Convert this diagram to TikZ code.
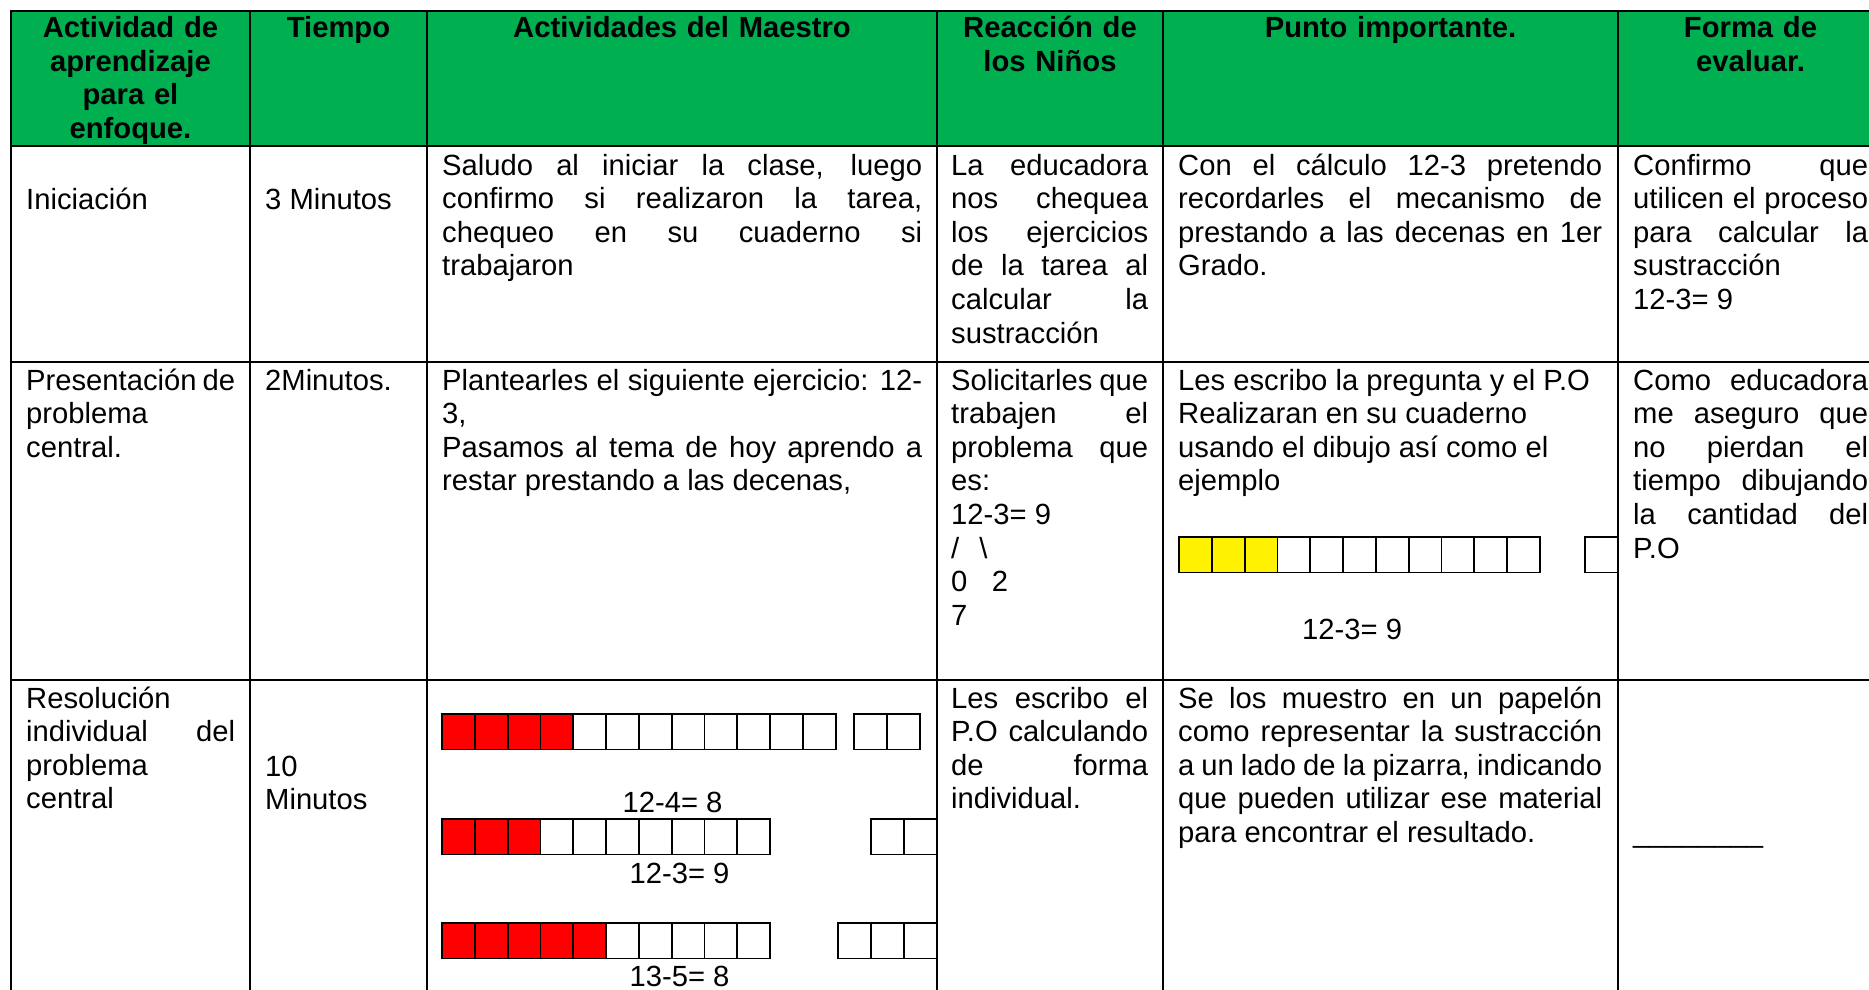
\documentclass[tikz,border=0pt]{standalone}
\usepackage{fontspec}
\setmainfont{Liberation Sans}
\usepackage{tikz}
\definecolor{hdrgreen}{RGB}{0,176,80}
\hyphenpenalty=10000
\exhyphenpenalty=10000
\tolerance=10000
\hbadness=10000

\begin{document}
\begin{tikzpicture}[x=1pt, y=-1pt,
	txt/.style={anchor=base west, inner sep=0pt, align=justify, font=\fontsize{29.2}{33.6}\selectfont},
	hdr/.style={anchor=base, inner sep=0pt, align=center, font=\bfseries\fontsize{29.2}{33.6}\selectfont},
	rule/.style={line width=2.6pt},
	cell/.style={draw, line width=1.8pt}]
	\useasboundingbox (0,0) rectangle (1869,989);
	\clip (0,0) rectangle (1869,989);
	
	% cabecera
	\fill [hdrgreen] (11,11) rectangle (1880,146);
	\node at (130.5,37.5) [hdr, text width=220] (h1) {Actividad de\\aprendizaje\\para el\\enfoque.};
	\node at (338.5,37.5) [hdr, text width=150] (h2) {Tiempo};
	\node at (682,37.5) [hdr, text width=480] (h3) {Actividades del Maestro};
	\node at (1050,37.5) [hdr, text width=200] (h4) {Reacción de\\los Niños};
	\node at (1390.5,37.5) [hdr, text width=424] (h5) {Punto importante.};
	\node at (1750.5,37.5) [hdr, text width=235] (h6) {Forma de\\evaluar.};
	
	% fila 1
	\node at (26,209) [txt] (r1c1) {Iniciación};
	\node at (265,209) [txt] (r1c2) {3 Minutos};
	\node at (442,175) [txt, text width=480] (r1c3) {Saludo al iniciar la clase, luego\linebreak confirmo si realizaron la tarea,\linebreak chequeo en su cuaderno si\linebreak trabajaron};
	\node at (951,175) [txt, text width=197] (r1c4) {La educadora\linebreak nos chequea\linebreak los ejercicios\linebreak de la tarea al\linebreak calcular la\linebreak sustracción};
	\node at (1178,175) [txt, text width=424] (r1c5) {Con el cálculo 12-3 pretendo\linebreak recordarles el mecanismo de\linebreak prestando a las decenas en 1er\linebreak Grado.};
	\node at (1633,175) [txt, text width=235] (r1c6) {Confirmo que\linebreak utilicen el proceso\linebreak para calcular la\linebreak sustracción\\12-3= 9};
	
	% fila 2
	\node at (26,390) [txt, text width=209] (r2c1) {Presentación de\\problema\\central.};
	\node at (265,390) [txt] (r2c2) {2Minutos.};
	\node at (442,390) [txt, text width=480] (r2c3) {Plantearles el siguiente ejercicio: 12-\linebreak 3,\\Pasamos al tema de hoy aprendo a\linebreak restar prestando a las decenas,};
	\node at (951,390) [txt, text width=197] (r2c4) {Solicitarles que\linebreak trabajen el\linebreak problema que\linebreak es:\\12-3= 9\\/\hspace{20pt}\textbackslash\\0\ \ \ 2\\7};
	\node at (1178,390) [txt, text width=424] (r2c5) {Les escribo la pregunta y el P.O\\Realizaran en su cuaderno\\usando el dibujo así como el\\ejemplo};
	\node at (1302,639) [txt] (eq1) {12-3= 9};
	\node at (1633,390) [txt, text width=235] (r2c6) {Como educadora\linebreak me aseguro que\linebreak no pierdan el\linebreak tiempo dibujando\linebreak la cantidad del\linebreak P.O};
	
	% barra amarilla
	\fill [yellow] (1179,537) rectangle +(3*32.8,35.5);
	\foreach \i in {0,...,10}
		\draw [cell] (1179+\i*32.8,537) rectangle +(32.8,35.5);
	\draw [cell] (1585,537) rectangle +(32.8,35.5);
	
	% fila 3
	\node at (26,708) [txt, text width=209] (r3c1) {Resolución\\individual del\linebreak problema\\central};
	\node at (265,776) [txt, text width=147] (r3c2) {10\\Minutos};
	\node at (951,708) [txt, text width=197] (r3c4) {Les escribo el\linebreak P.O calculando\linebreak de forma\linebreak individual.};
	\node at (1178,708) [txt, text width=424] (r3c5) {Se los muestro en un papelón\linebreak como representar la sustracción\linebreak a un lado de la pizarra, indicando\linebreak que pueden utilizar ese material\linebreak para encontrar el resultado.};
	\node at (1633,842) [txt] (r3c6) {\_\_\_\_\_\_\_\_};
	
	% barras rojas
	\fill [red] (442,714) rectangle +(4*32.8,35.5);
	\foreach \i in {0,...,11}
		\draw [cell] (442+\i*32.8,714) rectangle +(32.8,35.5);
	\foreach \i in {0,1}
		\draw [cell] (854+\i*32.8,714) rectangle +(32.8,35.5);
	\node at (672.5,812) [txt, anchor=base] (eq2) {12-4= 8};
	
	\fill [red] (442,819) rectangle +(3*32.8,35.5);
	\foreach \i in {0,...,9}
		\draw [cell] (442+\i*32.8,819) rectangle +(32.8,35.5);
	\foreach \i in {0,1}
		\draw [cell] (871+\i*32.8,819) rectangle +(32.8,35.5);
	\node at (679.5,883) [txt, anchor=base] (eq3) {12-3= 9};
	
	\fill [red] (442,923) rectangle +(5*32.8,35.5);
	\foreach \i in {0,...,9}
		\draw [cell] (442+\i*32.8,923) rectangle +(32.8,35.5);
	\foreach \i in {0,1,2}
		\draw [cell] (838+\i*32.8,923) rectangle +(32.8,35.5);
	\node at (679.5,986) [txt, anchor=base] (eq4) {13-5= 8};
	
	% lineas de la tabla
	\draw [rule] (11,1000) -- (11,11) -- (1880,11);
	\draw [rule] (11,146) -- (1880,146);
	\draw [rule] (11,362) -- (1880,362);
	\draw [rule] (11,680) -- (1880,680);
	\draw [rule] (250,11) -- (250,1000);
	\draw [rule] (427,11) -- (427,1000);
	\draw [rule] (937,11) -- (937,1000);
	\draw [rule] (1163,11) -- (1163,1000);
	\draw [rule] (1618,11) -- (1618,1000);
\end{tikzpicture}
\end{document}
